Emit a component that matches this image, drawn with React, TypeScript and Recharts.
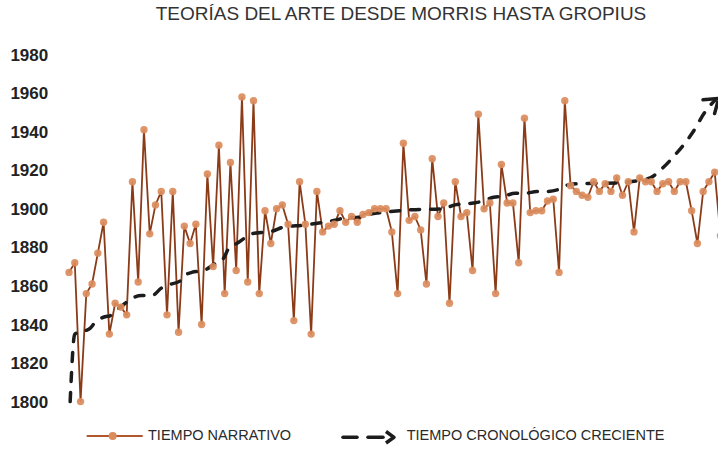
import { Line, LineChart, XAxis, YAxis } from "recharts";

// tiempo narrativo: year of each point, in reading order
const NARRATIVE_YEARS = [
  1867, 1872, 1800, 1856, 1861, 1877, 1893, 1835, 1851, 1849,
  1845, 1914, 1862, 1941, 1887, 1902, 1909, 1845, 1909, 1836,
  1891, 1882, 1892, 1840, 1918, 1870, 1933, 1856, 1924, 1868,
  1958, 1862, 1956, 1856, 1899, 1882, 1900, 1902, 1892, 1842,
  1914, 1892, 1835, 1909, 1888, 1891, 1892, 1899, 1893, 1896,
  1893, 1897, 1898, 1900, 1900, 1900, 1888, 1856, 1934, 1894,
  1896, 1889, 1861, 1926, 1896, 1903, 1851, 1914, 1896, 1898,
  1868, 1949, 1900, 1903, 1856, 1923, 1903, 1903, 1872, 1947,
  1898, 1899, 1899, 1904, 1905, 1867, 1956, 1912, 1909, 1907,
  1906, 1914, 1909, 1913, 1909, 1916, 1907, 1914, 1888, 1916,
  1914, 1914, 1909, 1913, 1914, 1909, 1914, 1914, 1899, 1882,
  1909, 1914, 1919, 1886, 1912,
];

// tiempo cronológico creciente: position along the same axis and year
const CHRONO_POS = [
  1.2, 2.0, 2.9, 4.65, 5.5, 7.25, 8.1, 9.0, 10.15, 11.6,
  13.6, 15.35, 17.1, 18.2, 20.25, 20.85, 22.3, 24.4, 26.35, 27.5,
  28.95, 29.8, 31.55, 32.7, 36.4, 38.2, 41.65, 45.1, 47.15, 49.2,
  50.95, 52.95, 56.7, 60.5, 65.7, 68.0, 71.15, 72.9, 74.65, 76.35,
  78.4, 80.15, 82.15, 83.9, 85.9, 87.1, 89.4, 96.9, 98.35, 101.8,
  103.55, 106.15, 109.05, 111.4, 113.1,
];
const CHRONO_YEARS = [
  1800, 1835, 1836, 1838, 1841, 1844, 1844.5, 1847, 1849.5, 1853,
  1855, 1855, 1859, 1860.5, 1862.5, 1865, 1867, 1868, 1871.5, 1873,
  1880.5, 1881.5, 1885, 1887, 1888.5, 1890.5, 1891.5, 1893, 1894, 1895.5,
  1895.5, 1897, 1898.5, 1899.5, 1900, 1902, 1903, 1904, 1906, 1906.5,
  1908, 1908, 1909, 1909, 1910, 1912, 1913, 1913.5, 1914, 1916,
  1920, 1928, 1939, 1950.5, 1956.5,
];

const Y_TICKS = [1800, 1820, 1840, 1860, 1880, 1900, 1920, 1940, 1960, 1980];

const TITLE = "TEORÍAS DEL ARTE DESDE MORRIS HASTA GROPIUS";
const LEGEND_NARRATIVE = "TIEMPO NARRATIVO";
const LEGEND_CHRONO = "TIEMPO CRONOLÓGICO CRECIENTE";

const BROWN = "#8b3b17";
const ORANGE = "#db8c5c";
const DARK = "#1c1c1c";
const FONT = "'Liberation Sans', Arial, sans-serif";

const narrative = NARRATIVE_YEARS.map((v, k) => ({ i: k + 1, v }));
const chrono = CHRONO_POS.map((i, k) => ({ i, c: CHRONO_YEARS[k] }));

function ArrowHead(props: any) {
  const { cx, cy, index } = props;
  if (index !== chrono.length - 1) return <g key={`c-${index}`} />;
  return (
    <path
      key="arrow"
      d="M -13 -9 L 0 0 L -13 9"
      fill="none"
      stroke={DARK}
      strokeWidth={3.5}
      strokeLinecap="round"
      strokeLinejoin="round"
      transform={`translate(${cx + 3.5},${cy - 1.5}) rotate(-40)`}
    />
  );
}

export default function App() {
  return (
    <div
      style={{
        position: "fixed",
        left: 0,
        top: 0,
        width: 718,
        height: 450,
        overflow: "hidden",
        background: "#fff",
        fontFamily: FONT,
      }}
    >
      <div
        style={{
          position: "absolute",
          left: 0,
          top: 2.8,
          width: 802,
          textAlign: "center",
          fontSize: 19,
          lineHeight: "22px",
          color: "#333",
          whiteSpace: "nowrap",
        }}
      >
        {TITLE}
      </div>

      <LineChart
        data={narrative}
        height={450}
        margin={{ top: 54.5, right: 5, bottom: 48.4, left: 0 }}
        width={737}
      >
        <XAxis dataKey="i" domain={[0, 116]} hide type="number" />
        <YAxis
          axisLine={false}
          domain={[1800, 1980]}
          tick={{ fill: "#222", fontSize: 17, fontWeight: 700, fontFamily: FONT }}
          tickLine={false}
          tickMargin={15}
          tickSize={0}
          ticks={Y_TICKS}
          type="number"
          width={63.24}
        />
        <Line
          dataKey="v"
          dot={{ r: 3.7, fill: ORANGE, stroke: "none", fillOpacity: 0.92 }}
          isAnimationActive={false}
          stroke={BROWN}
          strokeWidth={1.8}
          type="linear"
        />
        <Line
          data={chrono}
          dataKey="c"
          dot={ArrowHead}
          isAnimationActive={false}
          stroke={DARK}
          strokeDasharray="9 11"
          strokeLinecap="round"
          strokeWidth={3.5}
          type="monotone"
        />
      </LineChart>

      {/* legend */}
      <svg
        height={20}
        style={{ position: "absolute", left: 80, top: 426 }}
        width={330}
      >
        <line stroke="#b0582b" strokeWidth={2} x1={6.7} x2={62.7} y1={10} y2={10} />
        <circle cx={32.7} cy={10} fill={ORANGE} r={4} />
        <line stroke={DARK} strokeLinecap="round" strokeWidth={3.5} x1={263} x2={277} y1={11.3} y2={11.3} />
        <line stroke={DARK} strokeLinecap="round" strokeWidth={3.5} x1={288} x2={303} y1={11.3} y2={11.3} />
        <path
          d="M 306 5.5 L 314 11.3 L 306 17"
          fill="none"
          stroke={DARK}
          strokeLinejoin="round"
          strokeWidth={3.5}
        />
      </svg>
      <div
        style={{
          position: "absolute",
          left: 148,
          top: 427.2,
          fontSize: 14.5,
          lineHeight: "17px",
          color: "#2a2a2a",
          whiteSpace: "nowrap",
        }}
      >
        {LEGEND_NARRATIVE}
      </div>
      <div
        style={{
          position: "absolute",
          left: 406.7,
          top: 427.2,
          fontSize: 14.5,
          lineHeight: "17px",
          color: "#2a2a2a",
          whiteSpace: "nowrap",
        }}
      >
        {LEGEND_CHRONO}
      </div>
    </div>
  );
}
